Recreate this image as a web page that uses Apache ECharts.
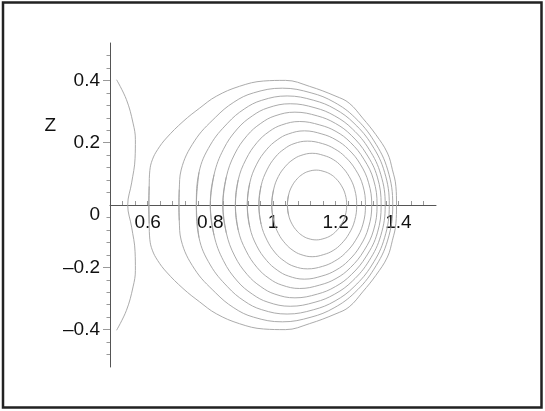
<!DOCTYPE html>
<html>
<head>
<meta charset="utf-8">
<script src="https://cdn.jsdelivr.net/npm/echarts@6/dist/echarts.min.js"></script>
<style>
  html, body { margin: 0; padding: 0; background: #fff; }
  #chart { width: 545px; height: 411px; }
</style>
</head>
<body>
<div id="chart"></div>
<script>
// tick labels
const xLabels = [0.6, 0.8, 1, 1.2, 1.4];
const zLabels = [-0.4, -0.2, 0, 0.2, 0.4];

// contour curves, [x, z]
// open curve on the far left
const openCurve = [[0.501,0.402],[0.5325,0.338],[0.5535,0.263],[0.561,0.21],[0.56,0.15],[0.549,0.071],[0.5365,0],
  [0.549,-0.071],[0.56,-0.15],[0.561,-0.21],[0.5535,-0.263],[0.5325,-0.338],[0.501,-0.402]];

// closed contours, outermost first
const c1 = [[0.604,0],[0.605,0.06],[0.607,0.11],[0.615,0.145],[0.632,0.178],[0.660,0.215],[0.713,0.268],[0.766,0.311],[0.819,0.349],
  [0.893,0.381],[0.97,0.398],[1.04,0.400],[1.116,0.381],[1.201,0.349],[1.243,0.327],[1.286,0.279],[1.328,0.226],
  [1.365,0.167],[1.381,0.113],[1.392,0.060],[1.394,0],[1.392,-0.060],[1.381,-0.113],[1.365,-0.167],[1.328,-0.226],
  [1.286,-0.279],[1.243,-0.327],[1.201,-0.349],[1.116,-0.381],[1.04,-0.400],[0.97,-0.398],[0.893,-0.381],[0.819,-0.349],
  [0.766,-0.311],[0.713,-0.268],[0.660,-0.215],[0.632,-0.178],[0.615,-0.145],[0.607,-0.11],[0.605,-0.06],[0.604,0]];
const c2 = [[0.700,0],[0.701,0.05],[0.707,0.1125],[0.750,0.206],[0.816,0.281],[0.875,0.330],[0.938,0.360],[1.03,0.375],
  [1.1215,0.360],[1.195,0.330],[1.261,0.281],[1.322,0.206],[1.366,0.1125],[1.382,0],[1.366,-0.1125],[1.322,-0.206],
  [1.261,-0.281],[1.195,-0.330],[1.1215,-0.360],[1.03,-0.375],[0.938,-0.360],[0.875,-0.330],[0.816,-0.281],
  [0.750,-0.206],[0.707,-0.1125],[0.701,-0.05],[0.700,0]];
const c3 = [[0.7555,0],[0.764,0.105],[0.800,0.1925],[0.855,0.2625],[0.908,0.308],[0.964,0.336],[1.045,0.350],[1.130,0.336],
  [1.198,0.308],[1.2585,0.2625],[1.3156,0.1925],[1.356,0.105],[1.371,0],[1.356,-0.105],[1.3156,-0.1925],[1.2585,-0.2625],
  [1.198,-0.308],[1.130,-0.336],[1.045,-0.350],[0.964,-0.336],[0.908,-0.308],[0.855,-0.2625],[0.800,-0.1925],
  [0.764,-0.105],[0.7555,0]];
const c4 = [[0.800,0],[0.812,0.0975],[0.842,0.179],[0.886,0.244],[0.934,0.286],[0.984,0.312],[1.055,0.325],[1.134,0.312],
  [1.197,0.286],[1.2535,0.244],[1.3065,0.179],[1.344,0.0975],[1.358,0],[1.344,-0.0975],[1.3065,-0.179],[1.2535,-0.244],
  [1.197,-0.286],[1.134,-0.312],[1.055,-0.325],[0.984,-0.312],[0.934,-0.286],[0.886,-0.244],[0.842,-0.179],
  [0.812,-0.0975],[0.800,0]];
const c5 = [[0.840,0],[0.851,0.0894],[0.878,0.164],[0.918,0.2235],[0.961,0.262],[1.006,0.286],[1.07,0.298],[1.1415,0.286],
  [1.199,0.262],[1.250,0.2235],[1.298,0.164],[1.333,0.0894],[1.345,0],[1.333,-0.0894],[1.298,-0.164],[1.250,-0.2235],
  [1.199,-0.262],[1.1415,-0.286],[1.07,-0.298],[1.006,-0.286],[0.961,-0.262],[0.918,-0.2235],[0.878,-0.164],
  [0.851,-0.0894],[0.840,0]];
const c6 = [[0.880,0],[0.889,0.0804],[0.914,0.147],[0.9495,0.201],[0.988,0.236],[1.028,0.257],[1.085,0.268],[1.149,0.257],
  [1.201,0.236],[1.247,0.201],[1.290,0.147],[1.321,0.0804],[1.332,0],[1.321,-0.0804],[1.290,-0.147],[1.247,-0.201],
  [1.201,-0.236],[1.149,-0.257],[1.085,-0.268],[1.028,-0.257],[0.988,-0.236],[0.9495,-0.201],[0.914,-0.147],
  [0.889,-0.0804],[0.880,0]];
const c7 = [[0.918,0],[0.926,0.0714],[0.948,0.131],[0.980,0.1785],[1.0135,0.209],[1.049,0.228],[1.10,0.238],[1.156,0.228],
  [1.201,0.209],[1.241,0.1785],[1.2785,0.131],[1.305,0.0714],[1.315,0],[1.305,-0.0714],[1.2785,-0.131],[1.241,-0.1785],
  [1.201,-0.209],[1.156,-0.228],[1.10,-0.238],[1.049,-0.228],[1.0135,-0.209],[0.980,-0.1785],[0.948,-0.131],
  [0.926,-0.0714],[0.918,0]];
const c8 = [[0.955,0],[0.962,0.0615],[0.981,0.113],[1.0075,0.154],[1.036,0.180],[1.067,0.197],[1.11,0.205],[1.158,0.197],
  [1.197,0.180],[1.231,0.154],[1.2636,0.113],[1.287,0.0615],[1.295,0],[1.287,-0.0615],[1.2636,-0.113],[1.231,-0.154],
  [1.197,-0.180],[1.158,-0.197],[1.11,-0.205],[1.067,-0.197],[1.036,-0.180],[1.0075,-0.154],[0.981,-0.113],
  [0.962,-0.0615],[0.955,0]];
const c9 = [[0.996,0],[1.002,0.0498],[1.017,0.0913],[1.040,0.1245],[1.064,0.146],[1.089,0.159],[1.125,0.166],[1.162,0.159],
  [1.192,0.146],[1.218,0.1245],[1.243,0.0913],[1.2606,0.0498],[1.267,0],[1.2606,-0.0498],[1.243,-0.0913],[1.218,-0.1245],
  [1.192,-0.146],[1.162,-0.159],[1.125,-0.166],[1.089,-0.159],[1.064,-0.146],[1.040,-0.1245],[1.017,-0.0913],
  [1.002,-0.0498],[0.996,0]];
const c10 = [[1.046,0],[1.050,0.0336],[1.061,0.0616],[1.077,0.084],[1.094,0.0986],[1.112,0.1075],[1.138,0.112],[1.163,0.1075],
  [1.1836,0.0986],[1.2015,0.084],[1.2185,0.0616],[1.2306,0.0336],[1.235,0],[1.2306,-0.0336],[1.2185,-0.0616],[1.2015,-0.084],
  [1.1836,-0.0986],[1.163,-0.1075],[1.138,-0.112],[1.112,-0.1075],[1.094,-0.0986],[1.077,-0.084],[1.061,-0.0616],
  [1.050,-0.0336],[1.046,0]];

const closedContours = [c1, c2, c3, c4, c5, c6, c7, c8, c9, c10];

const FONT = "'Liberation Sans', Arial, sans-serif";
const LINE_COLOR = '#a2a2a2';

function fmt(v) {
  const s = String(Math.round(v * 100) / 100);
  return s.replace('-', '\u2013');
}

// minor tick positions every 0.04
function tickList(from, to, skipZero) {
  const out = [];
  for (let i = Math.round(from / 0.04); i <= Math.round(to / 0.04); i++) {
    if (skipZero && i === 0) continue;
    out.push(+(i * 0.04).toFixed(2));
  }
  return out;
}

// wrap a closed loop so the smoothing has no seam at the start point
function wrapLoop(loop) {
  return [loop[loop.length - 2]].concat(loop, [loop[1]]);
}

const series = [{
  type: 'line', data: openCurve, showSymbol: false, smooth: 0.4,
  lineStyle: { color: LINE_COLOR, width: 0.9 }, silent: true
}];
closedContours.forEach(c => {
  series.push({
    type: 'line', data: wrapLoop(c), showSymbol: false, smooth: 0.4,
    lineStyle: { color: LINE_COLOR, width: 0.9 }, silent: true
  });
});

const chart = echarts.init(document.getElementById('chart'), null, { renderer: 'canvas' });
chart.setOption({
  animation: false,
  backgroundColor: '#fff',
  grid: { left: 110, right: 109, top: 43, bottom: 44, containLabel: false },
  xAxis: {
    type: 'value', min: 0.48, max: 1.52,
    offset: -162,
    axisLine: { onZero: false, lineStyle: { color: '#555', width: 1 } },
    axisTick: { show: true, inside: true, length: 4, customValues: tickList(0.52, 1.48, false),
      lineStyle: { color: '#999' } },
    axisLabel: { customValues: xLabels, formatter: fmt, color: '#111', fontSize: 19,
      fontFamily: FONT, margin: 8 },
    splitLine: { show: false }
  },
  yAxis: [{
    type: 'value', min: -0.52, max: 0.52,
    name: 'Z', nameLocation: 'end', nameGap: -83,
    nameTextStyle: { color: '#111', fontSize: 19, fontFamily: FONT, align: 'right',
      verticalAlign: 'middle', padding: [0, 54, 0, 0] },
    axisLine: { onZero: false, lineStyle: { color: '#555', width: 1 } },
    axisTick: { show: true, length: 3.5, customValues: tickList(-0.48, 0.48, true),
      lineStyle: { color: '#999' } },
    axisLabel: {
      customValues: zLabels, color: '#111', fontSize: 19, fontFamily: FONT, margin: 10,
      formatter: v => (Math.abs(v) < 1e-9 ? '{zero|0}' : fmt(v)),
      rich: { zero: { fontSize: 19, fontFamily: FONT, color: '#111', padding: [19, 0, 0, 0] } }
    },
    splitLine: { show: false }
  }, {
    type: 'value', min: -0.52, max: 0.52, position: 'left',
    axisLine: { show: false, onZero: false },
    axisTick: { show: true, length: 7, customValues: [-0.4, -0.2, 0.2, 0.4], lineStyle: { color: '#999' } },
    axisLabel: { show: false },
    splitLine: { show: false }
  }],
  graphic: [{
    type: 'rect', silent: true,
    shape: { x: 3, y: 2.5, width: 538.5, height: 405 },
    style: { fill: 'none', stroke: '#222', lineWidth: 2.5 }
  }],
  series: series
});
</script>
</body>
</html>
